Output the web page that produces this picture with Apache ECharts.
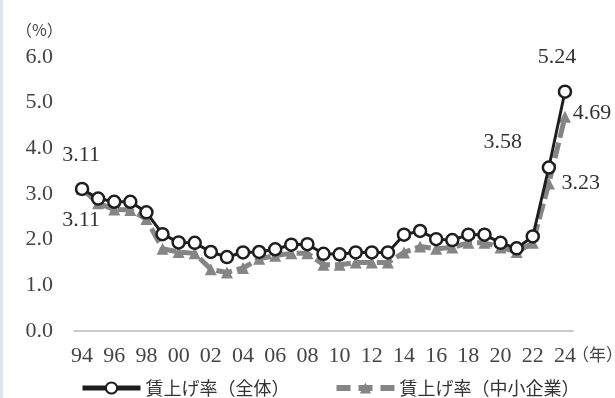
<!DOCTYPE html>
<html><head><meta charset="utf-8">
<script src="https://cdn.jsdelivr.net/npm/echarts@6/dist/echarts.min.js"></script>
<style>html,body{margin:0;padding:0;background:#fff;}#c{width:615px;height:398px;}</style>
</head><body><div id="c"></div>
<script>
const years = ['94','95','96','97','98','99','00','01','02','03','04','05','06','07','08','09','10','11','12','13','14','15','16','17','18','19','20','21','22','23','24'];
const totalRate = [3.11,2.90,2.83,2.83,2.60,2.12,1.94,1.93,1.73,1.62,1.72,1.73,1.79,1.89,1.90,1.69,1.68,1.72,1.72,1.72,2.11,2.19,2.01,1.99,2.11,2.11,1.93,1.81,2.07,3.58,5.24];
const smeRate = [3.11,2.80,2.66,2.65,2.45,1.80,1.73,1.70,1.35,1.28,1.38,1.58,1.65,1.70,1.70,1.45,1.45,1.50,1.50,1.50,1.72,1.85,1.80,1.83,1.93,1.93,1.83,1.73,1.93,3.23,4.69];
const yTicks = [0,1,2,3,4,5,6];
const seriesNames = ['賃上げ率（全体）','賃上げ率（中小企業）'];

const serif = '"Liberation Serif", "DejaVu Serif", serif';
const lblStyle = {fontFamily: serif, fontSize: 22, color: '#333'};

const totalLabels = {0:[-1,-34], 29:[-46,-25], 30:[-8,-34]};
const smeLabels = {0:[-1,31], 29:[32,0], 30:[27,-4]};

function build(vals, lbls){
  return vals.map((v,i)=> lbls[i] ? {value:v, label:Object.assign({show:true, position:'inside', offset:lbls[i], formatter: v.toFixed(2)}, lblStyle)} : v);
}

const chart = echarts.init(document.getElementById('c'));
chart.setOption({
  animation:false,
  backgroundColor:'#fff',
  grid:{left:74, right:42, top:57, bottom:67},
  legend:{
    data:[
      {name:seriesNames[0], lineStyle:{width:5, color:'#1e1e1e'}},
      {name:seriesNames[1], lineStyle:{width:6, color:'#858585', type:[14,8]}}
    ],
    left:75, top:374, itemWidth:58, itemHeight:14, itemGap:44,
    textStyle:{fontFamily:'"Noto Sans CJK JP", sans-serif', fontSize:18, color:'#333'}
  },
  xAxis:{
    type:'category', data:years, boundaryGap:true,
    axisLine:{lineStyle:{color:'#bbb', width:1.5}},
    axisTick:{show:false},
    axisLabel:{interval:1, fontFamily:serif, fontSize:22, color:'#444', margin:14}
  },
  yAxis:{
    type:'value', min:yTicks[0], max:yTicks[yTicks.length-1], interval:1,
    axisLine:{show:false}, axisTick:{show:false}, splitLine:{show:false},
    axisLabel:{formatter:v=>v.toFixed(1), fontFamily:serif, fontSize:22, color:'#444', margin:21}
  },
  graphic:[
    {type:'rect', left:0, top:0, shape:{width:3, height:398}, style:{fill:'#dfe4f0'}},
    {type:'text', left:16, top:22, style:{text:'（%）', fontFamily:'"Noto Sans CJK JP", sans-serif', fontSize:16, fill:'#444'}},
    {type:'text', left:572, top:346, style:{text:'（年）', fontFamily:'"Noto Sans CJK JP", sans-serif', fontSize:17, fill:'#444'}}
  ],
  series:[
    {
      name:seriesNames[0], type:'line', z:3, data:build(totalRate, totalLabels),
      symbol:'circle', symbolSize:12, showAllSymbol:true,
      lineStyle:{color:'#1e1e1e', width:3},
      itemStyle:{color:'#fff', borderColor:'#1e1e1e', borderWidth:2.5},
      emphasis:{disabled:true}
    },
    {
      name:seriesNames[1], type:'line', z:2, data:build(smeRate, smeLabels),
      symbol:'triangle', symbolSize:12, showAllSymbol:true,
      lineStyle:{color:'#858585', width:5, type:[16,5]},
      itemStyle:{color:'#858585', borderColor:'#858585', borderWidth:0},
      emphasis:{disabled:true}
    }
  ]
});
</script></body></html>
